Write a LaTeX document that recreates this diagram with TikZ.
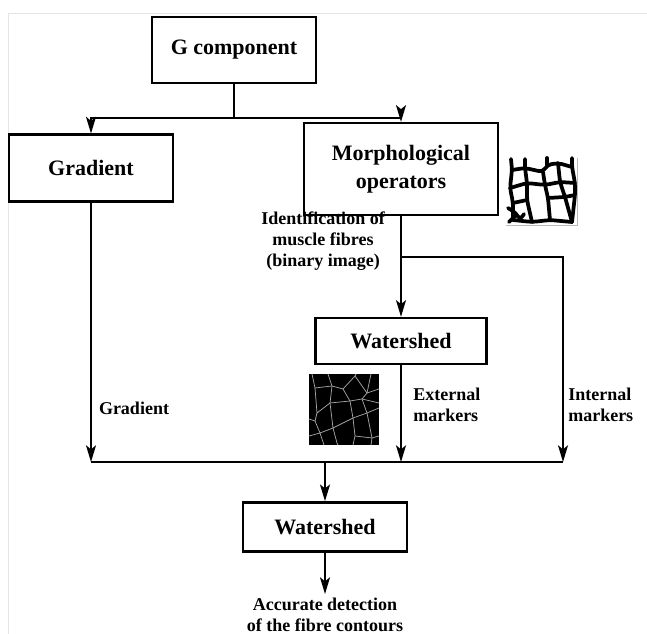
\documentclass[tikz,border=0pt]{standalone}
\usepackage{fontspec}
\setmainfont{Liberation Serif}
\usetikzlibrary{arrows.meta}

\begin{document}
\begin{tikzpicture}[x=0.75pt,y=-0.75pt,
    >={Stealth[length=12.5pt,width=7.5pt,inset=3pt]},
    link/.style={line width=1.3pt},
    cellwall/.style={line width=2.8pt,line join=round,line cap=round,rounded corners=3pt},
    cellline/.style={gray!70,line width=0.55pt,line join=round}]

  \useasboundingbox (0,0) rectangle (647,634);
  \draw[black!10,line width=0.6pt] (647,13) -- (8,13) -- (8,634);

  \begin{scope}[every node/.style={draw,line width=1.8pt,inner sep=0pt,align=center,
      font=\bfseries\fontsize{16.5}{21}\selectfont}]
    \node[minimum width=123pt,minimum height=49.5pt] (gcomp) at (234,50)  {G component};
    \node[minimum width=123pt,minimum height=50pt]   (grad)  at (91,168)  {Gradient};
    \node[minimum width=145.5pt,minimum height=69pt] (morph) at (401,169) {Morphological\\operators};
    \node[minimum width=128pt,minimum height=34.5pt] (ws1)   at (401,341) {Watershed};
    \node[minimum width=123pt,minimum height=37pt]   (ws2)   at (325,527) {Watershed};
  \end{scope}

  \begin{scope}[every node/.style={inner sep=0pt,font=\bfseries\fontsize{13.5}{15.8}\selectfont}]
    \node[align=center] (ident)  at (323,241) {Identification of\\muscle fibres\\(binary image)};
    \node               (gradlb) at (134,408) {Gradient};
    \node[align=left,anchor=west] (extlb) at (413,405) {External\\markers};
    \node[align=left,anchor=west] (intlb) at (568,405) {Internal\\markers};
    \node[align=center,anchor=north] (result) at (325,598) {Accurate detection\\of the fibre contours};
  \end{scope}

  \coordinate (split) at (234,118);
  \coordinate (fork)  at (401,257);
  \coordinate (bus)   at (325,462);
  \coordinate (busR)  at (563,462);

  \draw[link] (gcomp) -- (split);
  \draw[link,->] (split) -| (grad);
  \draw[link,->] (split) -| (morph);
  \draw[link,->] (morph) -- (ws1);
  \draw[link,->] (fork) -| (busR);
  \draw[link,->] (grad) -- (grad |- bus);
  \draw[link,->] (ws1) -- (ws1 |- bus);
  \draw[link] (grad |- bus) -- (busR);
  \draw[link,->] (bus) -- (ws2);
  \draw[link,->] (ws2) -- ([yshift=3pt]result.north);

  % binary image of the fibres
  \begin{scope}[shift={(506,158)}]
    \draw[gray!55,line width=0.6pt] (71,0) -- (71,67) -- (0,67);
    \draw[cellwall] (6,12) -- (19,10) -- (37,14) -- (41,7) -- (52,5) -- (66,9);
    \draw[cellwall] (4,30) -- (21,25) -- (39,27) -- (54,24) -- (69,25);
    \draw[cellwall] (7,45) -- (21,42);
    \draw[cellwall] (42,40) -- (59,39) -- (69,37);
    \draw[cellwall] (7,62) -- (26,64) -- (44,62) -- (66,64);
    \draw[cellwall] (5,1) -- (6,12) -- (4,30) -- (7,45) -- (7,62);
    \draw[cellwall] (19,1) -- (19,10) -- (21,25) -- (21,42) -- (26,64);
    \draw[cellwall] (37,14) -- (39,27) -- (42,40) -- (44,62);
    \draw[cellwall] (41,0) -- (41,7);
    \draw[cellwall] (52,5) -- (54,24) -- (59,39) -- (66,64);
    \draw[cellwall] (66,0) -- (66,9) -- (69,25) -- (69,37) -- (66,64);
    \draw[cellwall] (2,50) -- (10,55) -- (14,62) -- (18,56);
    \draw[cellwall] (3,64) -- (9,58);
  \end{scope}

  % watershed lines on the image
  \begin{scope}[shift={(309,374)}]
    \fill (0,0) rectangle (70,71);
    \draw[cellline] (3,0) -- (6,14) -- (23,12) -- (34,15) -- (46,2) -- (47,0);
    \draw[cellline] (19,0) -- (23,12);
    \draw[cellline] (46,2) -- (58,19) -- (70,15);
    \draw[cellline] (62,0) -- (58,19);
    \draw[cellline] (6,14) -- (8,39) -- (21,29) -- (41,27) -- (53,25) -- (70,29);
    \draw[cellline] (34,15) -- (41,27);
    \draw[cellline] (23,12) -- (21,29);
    \draw[cellline] (58,19) -- (53,25);
    \draw[cellline] (0,45) -- (6,47) -- (8,39);
    \draw[cellline] (21,29) -- (24,54) -- (44,44) -- (58,39) -- (70,34);
    \draw[cellline] (41,27) -- (44,44);
    \draw[cellline] (53,25) -- (58,39);
    \draw[cellline] (6,47) -- (11,59) -- (24,54);
    \draw[cellline] (0,62) -- (11,59) -- (15,71);
    \draw[cellline] (24,54) -- (28,69) -- (29,71);
    \draw[cellline] (44,44) -- (46,62) -- (44,71);
    \draw[cellline] (58,39) -- (63,64) -- (62,71);
    \draw[cellline] (46,62) -- (63,64) -- (70,62);
  \end{scope}

\end{tikzpicture}
\end{document}
